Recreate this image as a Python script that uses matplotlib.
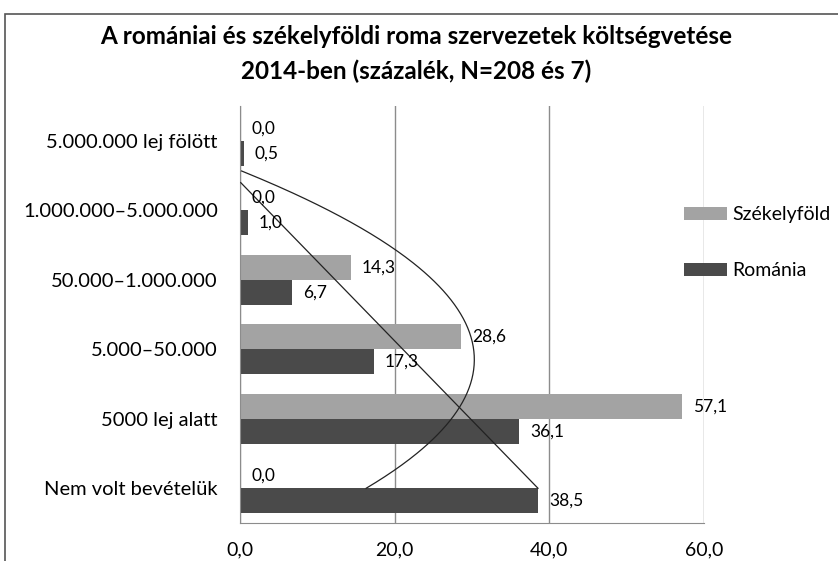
import matplotlib
matplotlib.use("Agg")
import matplotlib.pyplot as plt
import numpy as np
from matplotlib.patches import Rectangle

plt.rcParams["font.family"] = ["Lato", "DejaVu Sans"]

# categories bottom -> top (Excel order)
categories = ["Nem volt bevételük", "5000 lej alatt", "5.000–50.000",
              "50.000–1.000.000", "1.000.000–5.000.000", "5.000.000 lej fölött"]
szekelyfold = [0.0, 57.1, 28.6, 14.3, 0.0, 0.0]
romania = [38.5, 36.1, 17.3, 6.7, 1.0, 0.5]
xticks = [0, 20, 40, 60]

c_szf = "#a3a3a3"
c_rom = "#4a4a4a"


def main():
    fig = plt.figure(figsize=(8.38, 5.61), dpi=100)
    ax = fig.add_axes([0.2864, 0.0677, 0.8401 - 0.2864, 0.811 - 0.0677])

    pos = np.arange(1, len(categories) + 1)
    h = 0.36
    ax.barh(pos + h / 2, szekelyfold, height=h, color=c_szf, label="Székelyföld", zorder=2)
    ax.barh(pos - h / 2, romania, height=h, color=c_rom, label="Románia", zorder=2)

    for p, v in zip(pos, szekelyfold):
        ax.annotate(f"{v:.1f}".replace(".", ","), (v, p + h / 2), xytext=(8, 0),
                    textcoords="offset points", va="center", ha="left", fontsize=12.5, zorder=4)
    for p, v in zip(pos, romania):
        ax.annotate(f"{v:.1f}".replace(".", ","), (v, p - h / 2), xytext=(8, 0),
                    textcoords="offset points", va="center", ha="left", fontsize=12.5, zorder=4)

    # Excel style trendlines: 2nd order polynomial (Székelyföld), linear (Románia)
    yy = np.linspace(1, 6, 300)
    for vals, deg in [(szekelyfold, 2), (romania, 1)]:
        coef = np.polyfit(pos, vals, deg)
        xx = np.polyval(coef, yy)
        m = xx >= 0
        ax.plot(xx[m], yy[m], color="#222222", lw=0.9, zorder=3)

    ax.set_xlim(0, 60)
    ax.set_ylim(0.5, 6.5)
    ax.set_xticks(xticks)
    ax.set_xticklabels([f"{t:.1f}".replace(".", ",") for t in xticks], fontsize=14)
    ax.set_yticks(pos)
    ax.set_yticklabels(categories, fontsize=14.5)
    ax.tick_params(axis="both", length=0)
    ax.tick_params(axis="y", pad=16)
    ax.tick_params(axis="x", pad=13)
    ax.grid(axis="x", color="#8c8c8c", lw=1, zorder=1)
    for s in ["top", "right"]:
        ax.spines[s].set_visible(False)
    for s in ["left", "bottom"]:
        ax.spines[s].set_color("#8c8c8c")

    ax.legend(loc="center left", bbox_to_anchor=(0.94, 0.672), frameon=False, fontsize=14,
              handlelength=2.2, handleheight=0.6, labelspacing=2.0, handletextpad=0.3,
              borderaxespad=0)

    fig.text(0.496, 0.935, "A romániai és székelyföldi roma szervezetek költségvetése",
             ha="center", va="center", fontsize=17.5, fontweight="bold")
    fig.text(0.496, 0.873, "2014-ben (százalék, N=208 és 7)",
             ha="center", va="center", fontsize=17.5, fontweight="bold")

    fig.patches.append(Rectangle((5 / 838, -0.1), 1.2, 1 - 14 / 561 + 0.1,
                                 transform=fig.transFigure, fill=False,
                                 edgecolor="#555555", lw=1.2))

    fig.savefig("out.png", dpi=100)


if __name__ == '__main__':
    main()
